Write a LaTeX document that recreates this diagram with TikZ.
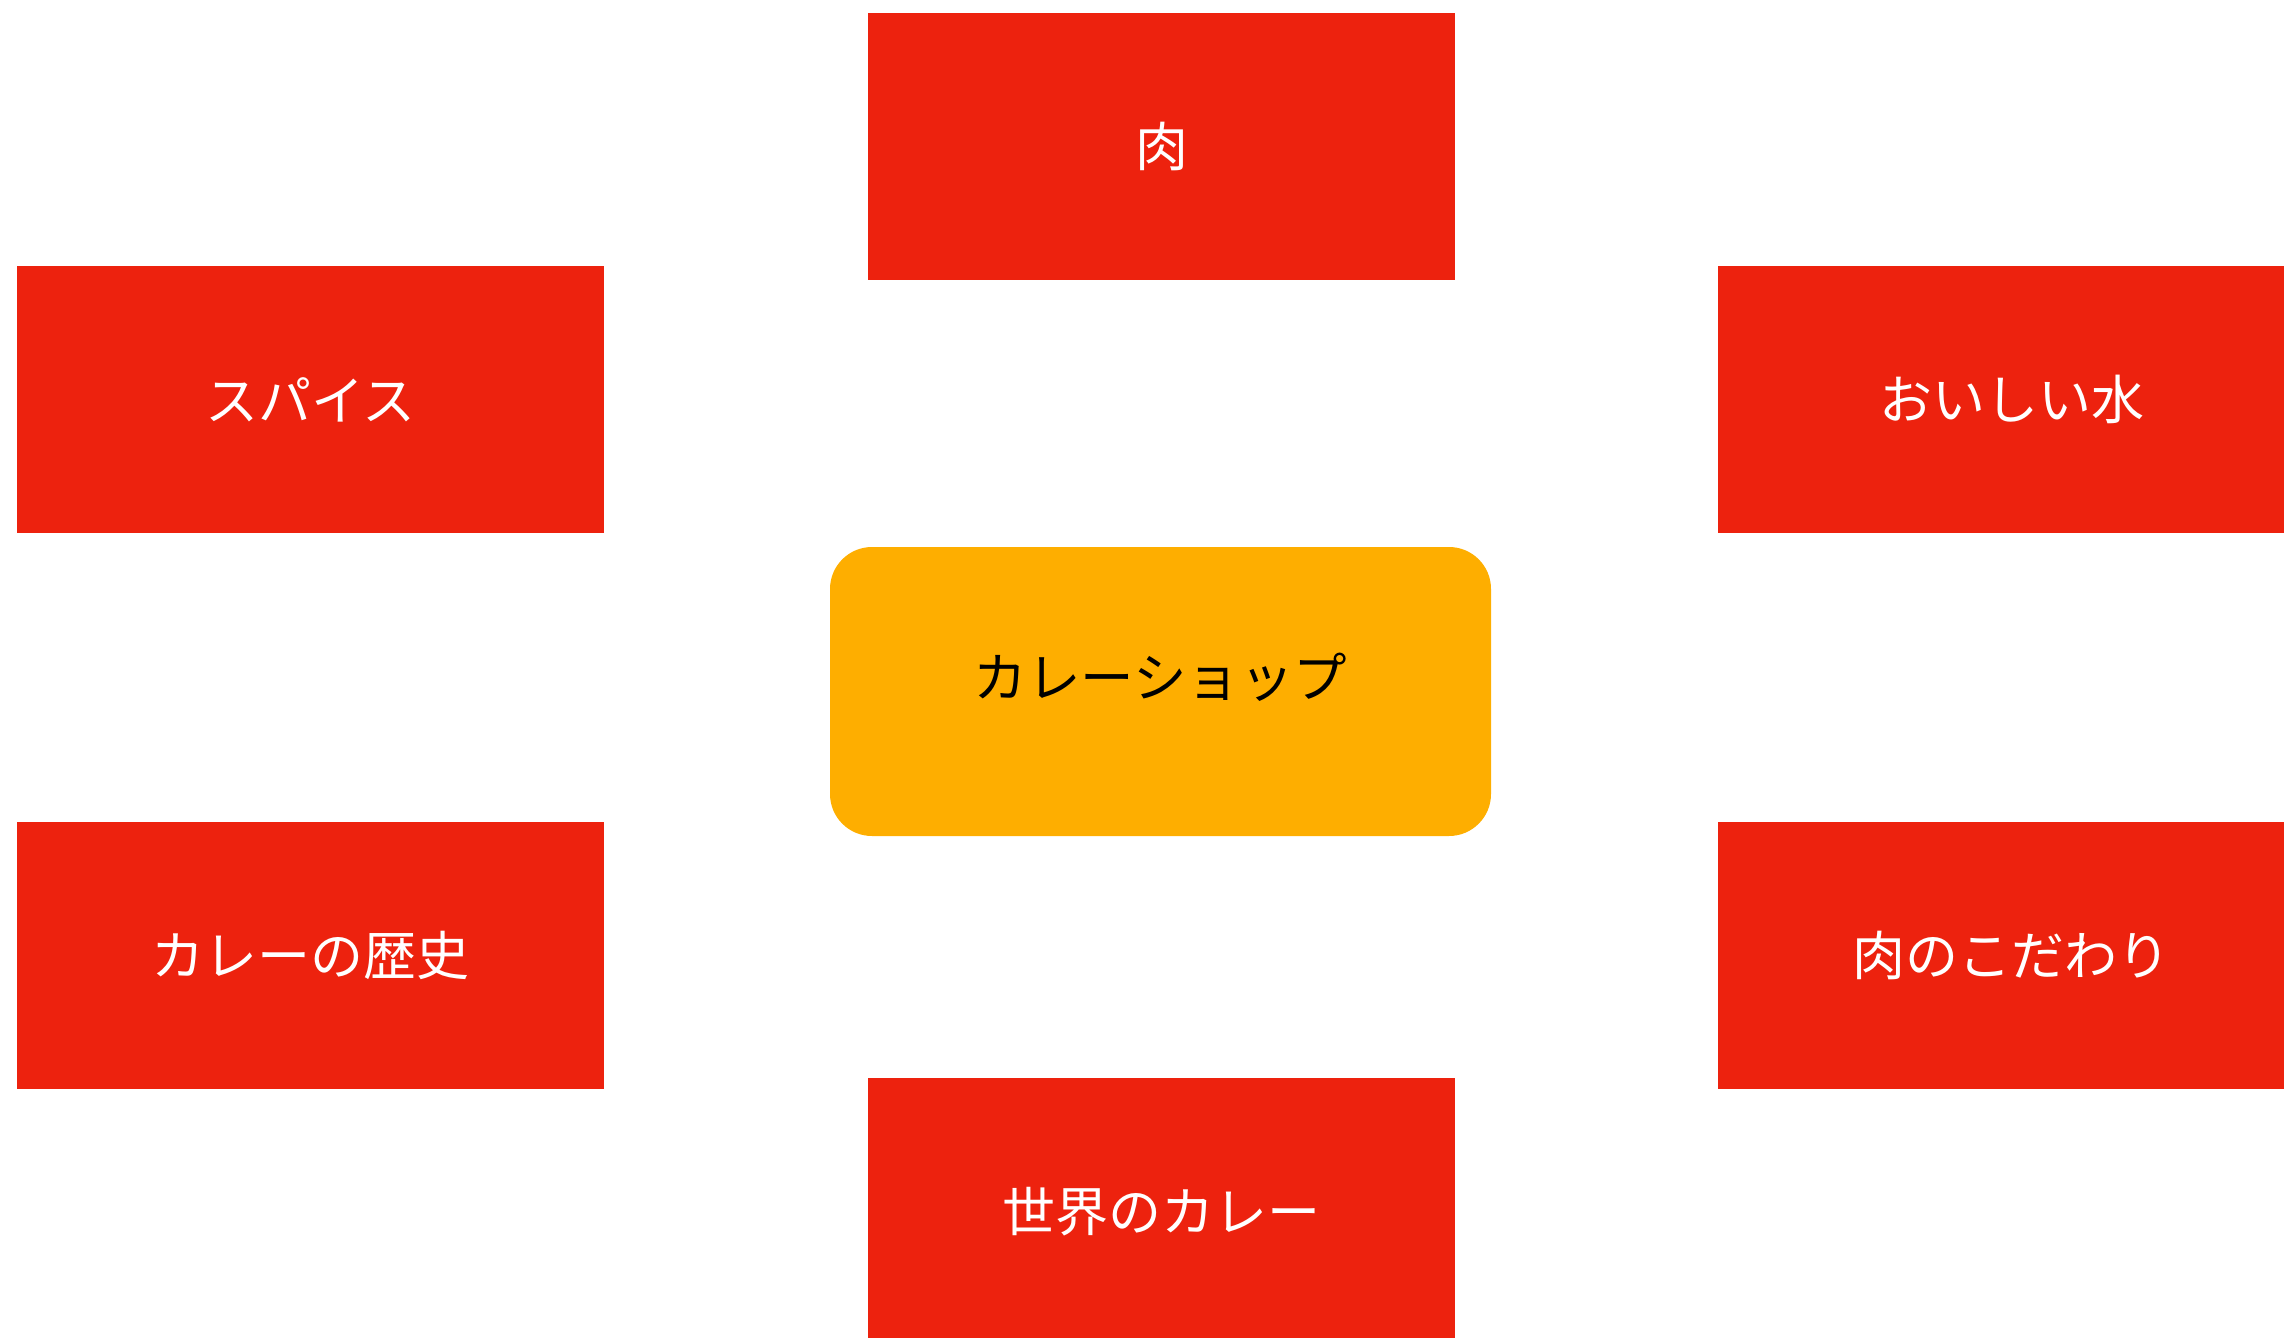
\documentclass[tikz,border=0pt]{standalone}
\usepackage{fontspec}
\newfontfamily\jpfont{Noto Sans CJK JP}
\definecolor{boxred}{RGB}{237,34,14}
\definecolor{boxorange}{RGB}{254,174,0}
\begin{document}
\begin{tikzpicture}[x=1pt,y=-1pt,
  redbox/.style={fill=boxred,draw=none,text=white,minimum width=587pt,minimum height=267pt,inner sep=0pt,font=\jpfont\fontsize{53}{63}\selectfont},
  centerbox/.style={fill=boxorange,draw=none,rounded corners=42pt,minimum width=661pt,minimum height=289pt,inner sep=0pt},
  centertext/.style={text=black,inner sep=0pt,font=\jpfont\fontsize{53.5}{64}\selectfont}]
\useasboundingbox (0,0) rectangle (2284,1338);
\begin{scope}
\clip (0,0) rectangle (2284,1338);
\node[redbox] (niku) at (1161.5,146.5) {肉};
\node[redbox] (spice) at (310.5,399.5) {スパイス};
\node[redbox] (water) at (2011.5,399.5) {おいしい水};
\node[centerbox] (shop) at (1160.5,691.5) {};
\node[centertext] (shoptext) at ([yshift=14pt]shop.center) {カレーショップ};
\node[redbox] (history) at (310.5,955.5) {カレーの歴史};
\node[redbox] (kodawari) at (2011.5,955.5) {肉のこだわり};
\node[redbox] (world) at (1161.5,1211.5) {世界のカレー};
\end{scope}
\end{tikzpicture}
\end{document}
